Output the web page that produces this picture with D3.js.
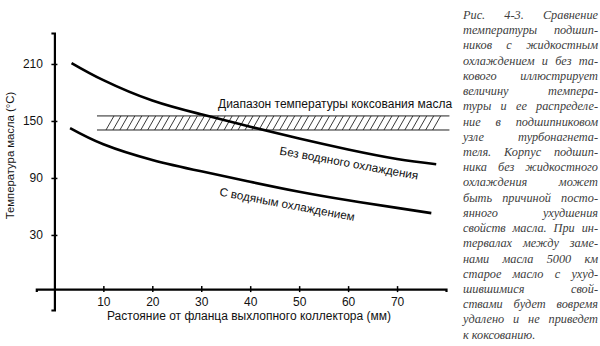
<!DOCTYPE html>
<html><head><meta charset="utf-8">
<script src="https://cdn.jsdelivr.net/npm/d3@7"></script>
<style>
html,body{margin:0;padding:0;background:#fff;}
svg{display:block;}
</style>
</head><body>
<svg id="c" width="600" height="346"></svg>
<script>
// ---- data ----
const noCoolingDist = [3.5, 10, 20, 30, 40, 50, 60, 70, 78];
const noCoolingTemp = [211, 193, 171.5, 157, 144, 131.5, 120, 110, 104.5];
const withCoolingDist = [3.2, 10, 20, 30, 40, 50, 60, 70, 77];
const withCoolingTemp = [142.5, 125.5, 109, 97, 86, 75.5, 66.5, 58.5, 53];
const cokingRange = [140.5, 155.3];
const cokingDist = [8.7, 80.7];
const xTicks = [10, 20, 30, 40, 50, 60, 70];
const yTicks = [30, 90, 150, 210];
const xTitle = "Растояние от фланца выхлопного коллектора (мм)";
const yTitle = "Температура масла (°C)";
const bandLabel = "Диапазон температуры коксования масла";
const noCoolingLabel = "Без водяного охлаждения";
const withCoolingLabel = "С водяным охлаждением";
const caption = [
 "Рис. 4-3. Сравнение",
 "температуры подшип-",
 "ников с жидкостным",
 "охлаждением и без та-",
 "кового иллюстрирует",
 "величину темпера-",
 "туры и ее распределе-",
 "ние в подшипниковом",
 "узле турбонагнета-",
 "теля. Корпус подшип-",
 "ника без жидкостного",
 "охлаждения может",
 "быть причиной посто-",
 "янного ухудшения",
 "свойств масла. При ин-",
 "тервалах между заме-",
 "нами масла 5000 км",
 "старое масло с ухуд-",
 "шившимися свой-",
 "ствами будет вовремя",
 "удалено и не приведет",
 "к коксованию."
];

// ---- scales ----
const svg = d3.select("#c");
const x = d3.scaleLinear().domain([-3.7, 80]).range([36.3, 446]);
const y = d3.scaleLinear().domain([-49, 242.6]).range([310, 33]);
const font = "'Liberation Sans', Arial, sans-serif";

// axes
const xAxisY = y(-27);
const gx = svg.append("g").attr("transform", `translate(0,${xAxisY})`)
  .call(d3.axisBottom(x).tickValues(xTicks).tickSizeOuter(0).tickSize(3).tickPadding(5.5));
gx.selectAll(".tick line").attr("y1", -3).attr("y2", 3).attr("stroke-width", 1.5);
const gy = svg.append("g").attr("transform", `translate(${x(0)},0)`)
  .call(d3.axisLeft(y).tickValues(yTicks).tickSizeOuter(0).tickSize(3).tickPadding(8.5));
gy.selectAll(".tick line").attr("x1", -3).attr("x2", 3).attr("stroke-width", 1.5);
[gx, gy].forEach(g => {
  g.select(".domain").attr("stroke", "#000").attr("stroke-width", 2.2);
  g.selectAll("text").attr("font-family", font).attr("font-size", 12).attr("fill", "#111");
});

// axis titles
svg.append("text").attr("x", 249).attr("y", 320).attr("text-anchor", "middle")
  .attr("font-family", font).attr("font-size", 12).attr("fill", "#111").text(xTitle);
svg.append("text").attr("transform", "translate(13.5,155.5) rotate(-90)").attr("text-anchor", "middle")
  .attr("font-family", font).attr("font-size", 11.3).attr("fill", "#111").text(yTitle);

// coking band
const bx0 = x(cokingDist[0]), bx1 = x(cokingDist[1]);
const byTop = y(cokingRange[1]), byBot = y(cokingRange[0]);
svg.append("line").attr("x1", bx0).attr("x2", bx1).attr("y1", byTop).attr("y2", byTop).attr("stroke", "#222").attr("stroke-width", 1);
svg.append("line").attr("x1", bx0).attr("x2", bx1).attr("y1", byBot).attr("y2", byBot).attr("stroke", "#222").attr("stroke-width", 1);
const hatch = d3.range(bx0 + 9, bx1 - 15, 6.95);
svg.append("g").selectAll("line").data(hatch).join("line")
  .attr("x1", d => d).attr("y1", byBot).attr("x2", d => d + 8).attr("y2", byTop)
  .attr("stroke", "#222").attr("stroke-width", 0.9);
svg.append("text").attr("x", 218).attr("y", 107.5).attr("font-family", font).attr("font-size", 12)
  .attr("fill", "#111").text(bandLabel);

// curves
const line = d3.line().x(d => x(d[0])).y(d => y(d[1])).curve(d3.curveNatural);
svg.append("path").datum(d3.zip(noCoolingDist, noCoolingTemp)).attr("d", line)
  .attr("fill", "none").attr("stroke", "#000").attr("stroke-width", 2.6);
svg.append("path").datum(d3.zip(withCoolingDist, withCoolingTemp)).attr("d", line)
  .attr("fill", "none").attr("stroke", "#000").attr("stroke-width", 2.6);

// curve labels
svg.append("text").attr("transform", `translate(${x(45.9)},${y(114.7)}) rotate(10.3)`)
  .attr("font-family", font).attr("font-size", 11.7).attr("fill", "#111").text(noCoolingLabel);
svg.append("text").attr("transform", `translate(${x(33.6)},${y(71.5)}) rotate(10.7)`)
  .attr("font-family", font).attr("font-size", 11.7).attr("fill", "#111").text(withCoolingLabel);

// caption (justified)
const cx = 463, cw = 135;
const cg = svg.append("g").attr("font-family", "'Liberation Serif', 'Times New Roman', serif")
  .attr("font-style", "italic").attr("font-size", 12.3).attr("fill", "#404040");
caption.forEach((ln, i) => {
  const yy = 19 + i * 15.22;
  const t = cg.append("text").attr("y", yy);
  const words = ln.split(" ");
  if (i === caption.length - 1) { t.attr("x", cx).text(ln); return; }
  const spans = words.map(w => t.append("tspan").text(w));
  const widths = spans.map(s => s.node().getComputedTextLength());
  const sum = d3.sum(widths);
  const gap = words.length > 1 ? (cw - sum) / (words.length - 1) : 0;
  let px = cx;
  spans.forEach((s, k) => { s.attr("x", px).attr("y", yy); px += widths[k] + gap; });
});
</script>
</body></html>
